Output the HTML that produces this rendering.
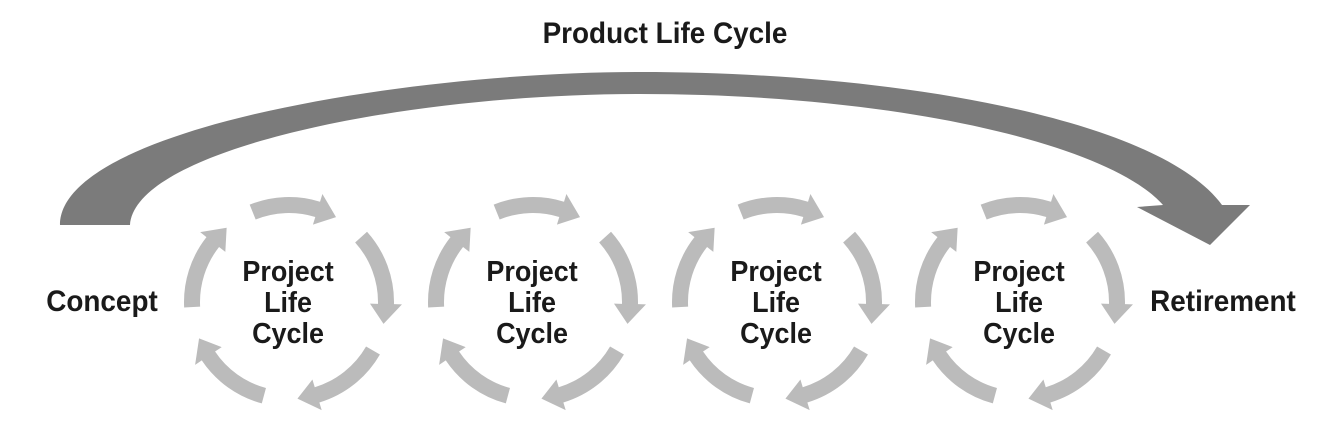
<!DOCTYPE html>
<html><head><style>
html,body{margin:0;padding:0;background:#fff;}
svg{display:block;}
text{font-family:"Liberation Sans",sans-serif;font-weight:bold;fill:#1a1a1a;}
</style></head><body>
<svg id="s" width="1332" height="434" viewBox="0 0 1332 434">
<path d="M60,225 C60,130 400,72 640,72 C900,72 1160,120 1222,205 L1250,205 L1210,245 L1137,207 L1163,205 C1110,145 900,94 640,94 C400,94 135,150 130,225 Z" fill="#7b7b7b"/>
<text x="665" y="43" font-size="30" text-anchor="middle" transform="translate(665 0) scale(0.93 1) translate(-665 0)">Product Life Cycle</text>
<text x="102" y="311" font-size="30" text-anchor="middle" transform="translate(102 0) scale(0.93 1) translate(-102 0)">Concept</text>
<text x="1223" y="311" font-size="30" text-anchor="middle" transform="translate(1223 0) scale(0.93 1) translate(-1223 0)">Retirement</text>
<g id="circles"></g>
</svg>
<script>
var cx=[289,533,777,1020],cy=302,R=97,w=8,hw=16,hl=20;
var arcs=[[-22,29],[48,103],[120,175],[195,248],[267,320]];
function p(a,r,c){var t=(a-90)*Math.PI/180;return [c+r*Math.cos(t),cy+r*Math.sin(t)];}
var g=document.getElementById('circles'),h='';
cx.forEach(function(c){
 arcs.forEach(function(a){
  var s=a[0],e=a[1],eb=e-hl/R*180/Math.PI;
  var o1=p(s,R+w,c),o2=p(eb,R+w,c),h1=p(eb,R+hw,c),tip=p(e,R,c),h2=p(eb,R-hw,c),i2=p(eb,R-w,c),i1=p(s,R-w,c);
  h+='<path fill="#bbbbbb" d="M'+o1+' A'+(R+w)+','+(R+w)+' 0 0 1 '+o2+' L'+h1+' L'+tip+' L'+h2+' L'+i2+' A'+(R-w)+','+(R-w)+' 0 0 0 '+i1+' Z"/>';
 });
 ['Project','Life','Cycle'].forEach(function(t,i){
  h+='<text x="'+(c-1)+'" y="'+(281+i*31)+'" font-size="29" text-anchor="middle" transform="translate('+c+' 0) scale(0.93 1) translate('+(-c)+' 0)">'+t+'</text>';
 });
});
g.innerHTML=h;
</script>
</body></html>
